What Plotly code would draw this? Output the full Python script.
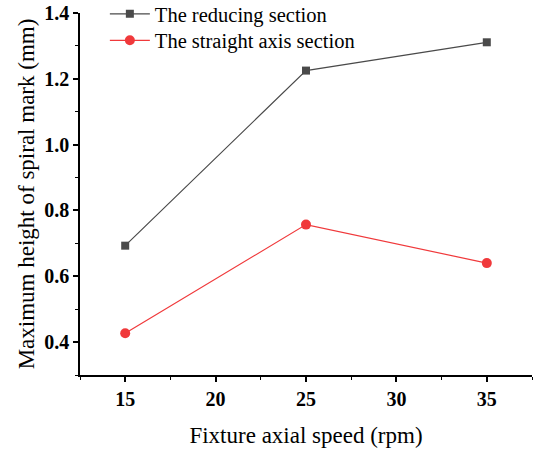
import plotly.graph_objects as go

speed = [15, 25, 35]
reducing = [0.693, 1.225, 1.311]
straight = [0.427, 0.757, 0.640]
names = ["The reducing section", "The straight axis section"]
xtitle = "Fixture axial speed (rpm)"
ytitle = "Maximum height of spiral mark (mm)"

FONT = "Liberation Serif, Times New Roman, serif"

fig = go.Figure()
fig.add_trace(go.Scatter(x=speed, y=reducing, name=names[0], mode="lines+markers",
                         line=dict(color="#4a4a4a", width=1.2),
                         marker=dict(symbol="square", size=8, color="#4a4a4a"),
                         legend="legend"))
fig.add_trace(go.Scatter(x=speed, y=straight, name=names[1], mode="lines+markers",
                         line=dict(color="#f0393b", width=1.2),
                         marker=dict(symbol="circle", size=10, color="#f0393b"),
                         legend="legend2"))

axis_common = dict(showline=True, linecolor="black", linewidth=1.5, ticks="outside",
                   ticklen=5, tickwidth=1.5, tickcolor="black", showgrid=False,
                   zeroline=False, mirror=False, automargin=False)

fig.update_xaxes(range=[12.5, 37.5], tickvals=[15, 20, 25, 30, 35], **axis_common,
                 tickfont=dict(family=FONT, size=20, color="black", weight="bold"),
                 title=dict(text=xtitle, font=dict(family=FONT, size=23, color="black"), standoff=18),
                 minor=dict(ticks="outside", ticklen=3, tickwidth=1, tickcolor="black", dtick=5, tick0=12.5))
fig.update_yaxes(range=[0.3, 1.4], tickvals=[0.4, 0.6, 0.8, 1.0, 1.2, 1.4], ticktext=["0.4", "0.6", "0.8", "1.0", "1.2", "1.4"],
                 **axis_common,
                 tickfont=dict(family=FONT, size=20, color="black", weight="bold"),
                 title=dict(text=ytitle, font=dict(family=FONT, size=23, color="black"), standoff=3),
                 minor=dict(ticks="outside", ticklen=3, tickwidth=1, tickcolor="black", dtick=0.1, tick0=0.3))

leg = dict(xanchor="left", yanchor="middle", yref="container",
           font=dict(family=FONT, size=20.5, color="black"),
           bgcolor="rgba(0,0,0,0)", itemwidth=40)
fig.update_layout(width=538, height=450, margin=dict(l=80, r=6, t=13, b=75, autoexpand=False),
                  paper_bgcolor="white", plot_bgcolor="white",
                  font=dict(family=FONT, color="black"),
                  legend=dict(x=0.055, y=1 - 14 / 450, **leg),
                  legend2=dict(x=0.055, y=1 - 40.5 / 450, **leg),
                  showlegend=True)

fig.write_html("out.html", config={"displayModeBar": False},
               post_script="document.body.style.margin='0';document.body.style.padding='0';")
